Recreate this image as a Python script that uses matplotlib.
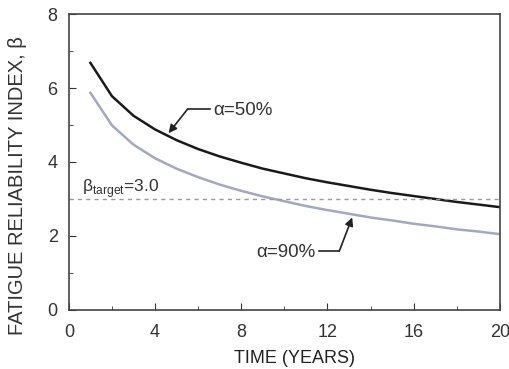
import matplotlib.pyplot as plt
from matplotlib.ticker import MultipleLocator

plt.rcParams['font.family'] = ['Liberation Sans', 'DejaVu Sans']
plt.rcParams['mathtext.fontset'] = 'custom'
plt.rcParams['mathtext.rm'] = 'Liberation Sans'

# time in years
years = [1, 2, 3, 4, 5, 6, 7, 8, 9, 10, 11, 12, 13, 14, 15, 16, 17, 18, 19, 20]
# reliability index, alpha = 50%
beta_50 = [6.68, 5.78, 5.25, 4.88, 4.59, 4.35, 4.15, 3.98, 3.82, 3.69,
           3.56, 3.45, 3.35, 3.25, 3.16, 3.08, 3.00, 2.92, 2.85, 2.78]
# reliability index, alpha = 90%
beta_90 = [5.87, 4.99, 4.47, 4.10, 3.82, 3.59, 3.39, 3.22, 3.07, 2.94,
           2.81, 2.70, 2.60, 2.50, 2.42, 2.33, 2.26, 2.18, 2.12, 2.05]
beta_target = 3.0

fig = plt.figure(figsize=(5.1, 3.69), dpi=100)
ax = fig.add_axes([0.135, 0.160, 0.845, 0.802])

ax.plot(years, beta_50, color='#1a1a1a', lw=1.8)
ax.plot(years, beta_90, color='#a3a8c0', lw=1.8)
ax.axhline(beta_target, color='#9a9a9a', lw=1.0, ls=(0, (3, 3)))

ax.text(0.6, 3.2, r'β$_{\mathrm{target}}$=3.0', fontsize=12.5, color='#333333')

# alpha = 50% label with bent arrow
ax.text(6.7, 5.38, 'α=50%', fontsize=13.5, va='center', color='#333333')
ax.plot([6.53, 5.51], [5.43, 5.43], color='#222222', lw=1.2)
ax.annotate('', xy=(4.63, 4.78), xytext=(5.51, 5.43),
            arrowprops=dict(arrowstyle='-|>', color='#222222', lw=1.2,
                            mutation_scale=12, shrinkA=0, shrinkB=0))

# alpha = 90% label with bent arrow
ax.text(11.45, 1.55, 'α=90%', fontsize=13.5, va='center', ha='right', color='#333333')
ax.plot([11.6, 12.55], [1.59, 1.59], color='#222222', lw=1.2)
ax.annotate('', xy=(13.15, 2.5), xytext=(12.55, 1.59),
            arrowprops=dict(arrowstyle='-|>', color='#222222', lw=1.2,
                            mutation_scale=12, shrinkA=0, shrinkB=0))

ax.set_xlim(0, 20)
ax.set_ylim(0, 8)
ax.xaxis.set_major_locator(MultipleLocator(4))
ax.xaxis.set_minor_locator(MultipleLocator(2))
ax.yaxis.set_major_locator(MultipleLocator(2))
ax.yaxis.set_minor_locator(MultipleLocator(1))
ax.tick_params(which='both', direction='in', labelsize=13, colors='#333333')
ax.tick_params(which='major', length=5)
ax.tick_params(which='minor', length=3)
ax.tick_params(axis='x', pad=10)
ax.tick_params(axis='y', pad=8)
for s in ax.spines.values():
    s.set_color('#444444')
    s.set_linewidth(1.2)

ax.set_xlabel('TIME (YEARS)', fontsize=13, color='#222222')
ax.set_ylabel('FATIGUE RELIABILITY INDEX, β', fontsize=14.5, color='#333333')
ax.xaxis.set_label_coords(0.523, -0.135)
ax.yaxis.set_label_coords(-0.0975, 0.42)

fig.savefig('out.png', dpi=100)
